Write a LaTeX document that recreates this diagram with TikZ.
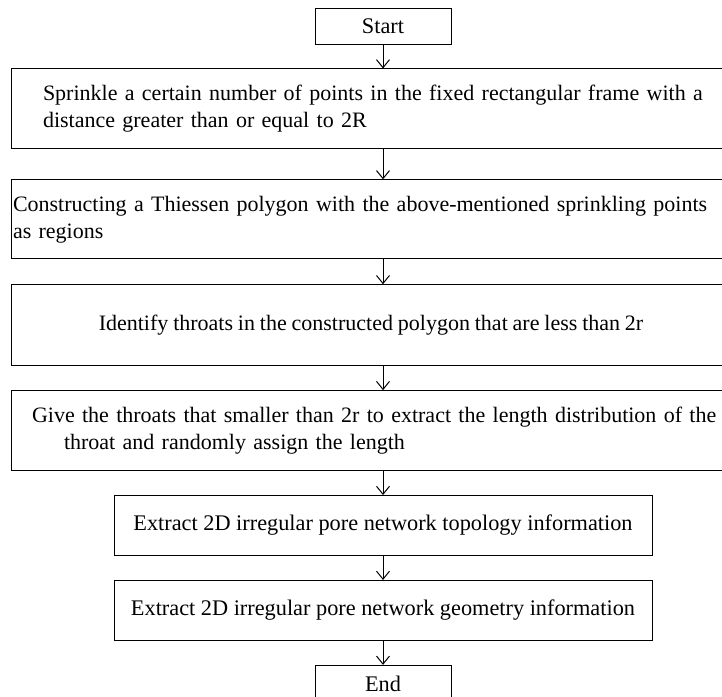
\documentclass[tikz,border=0pt]{standalone}
\usepackage{fontspec}
\setmainfont{Liberation Serif}
\usetikzlibrary{arrows.meta, positioning}
\newcommand\tightspaces{\fontdimen2\font=0.22em\relax}

\begin{document}
\begin{tikzpicture}[
        x=1pt, y=-1pt,
        node distance=24pt,
        box/.style={draw, line width=0.9pt, minimum width=720pt, inner sep=0pt, font=\fontsize{22}{27}\selectfont, align=left},
        small/.style={draw, line width=0.9pt, inner sep=0pt, minimum width=538pt, minimum height=60pt, font=\fontsize{22.3}{27}\selectfont, align=center},
        >={Straight Barb[length=8pt, width=13pt, line width=1pt]}
    ]
        \useasboundingbox (0,0) rectangle (722,696);
        \clip (0,0) rectangle (722,696);
        \node[small, minimum width=136pt, minimum height=36pt] (start) at (383,26) {Start};
        \node[box, below=24pt of start, xshift=-12pt, minimum height=80pt, text width=656pt] (sprinkle) {\tightspaces\mbox{Sprinkle a certain number of points in the fixed rectangular frame with a}\\distance greater than or equal to 2R};
        \node[box, below=30pt of sprinkle, minimum height=79pt, text width=716pt] (thiessen) {\tightspaces\mbox{Constructing a Thiessen polygon with the above-mentioned sprinkling points}\\as regions};
        \node[box, below=25pt of thiessen, minimum height=81pt] (identify) {Identify throats in the constructed polygon that are less than 2r};
        \node[box, below=24pt of identify, minimum height=80pt, text width=678pt] (throats) {\tightspaces\mbox{Give the throats that smaller than 2r to extract the length distribution of the}\\\hspace*{32pt}throat and randomly assign the length};
        \node[small, below=24pt of throats, xshift=12pt] (topology) {Extract 2D irregular pore network topology information};
        \node[small, below=24pt of topology] (geometry) {Extract 2D irregular pore network geometry information};
        \node[small, below=24pt of geometry, minimum width=136pt, minimum height=37pt] (finish) {End};

        \draw[->] (start) -- (start |- sprinkle.north);
        \draw[->] (sprinkle.south -| start) -- (thiessen.north -| start);
        \draw[->] (thiessen.south -| start) -- (identify.north -| start);
        \draw[->] (identify.south -| start) -- (throats.north -| start);
        \draw[->] (throats.south -| start) -- (topology.north -| start);
        \draw[->] (topology) -- (geometry);
        \draw[->] (geometry) -- (finish);
    \end{tikzpicture}
\end{document}
